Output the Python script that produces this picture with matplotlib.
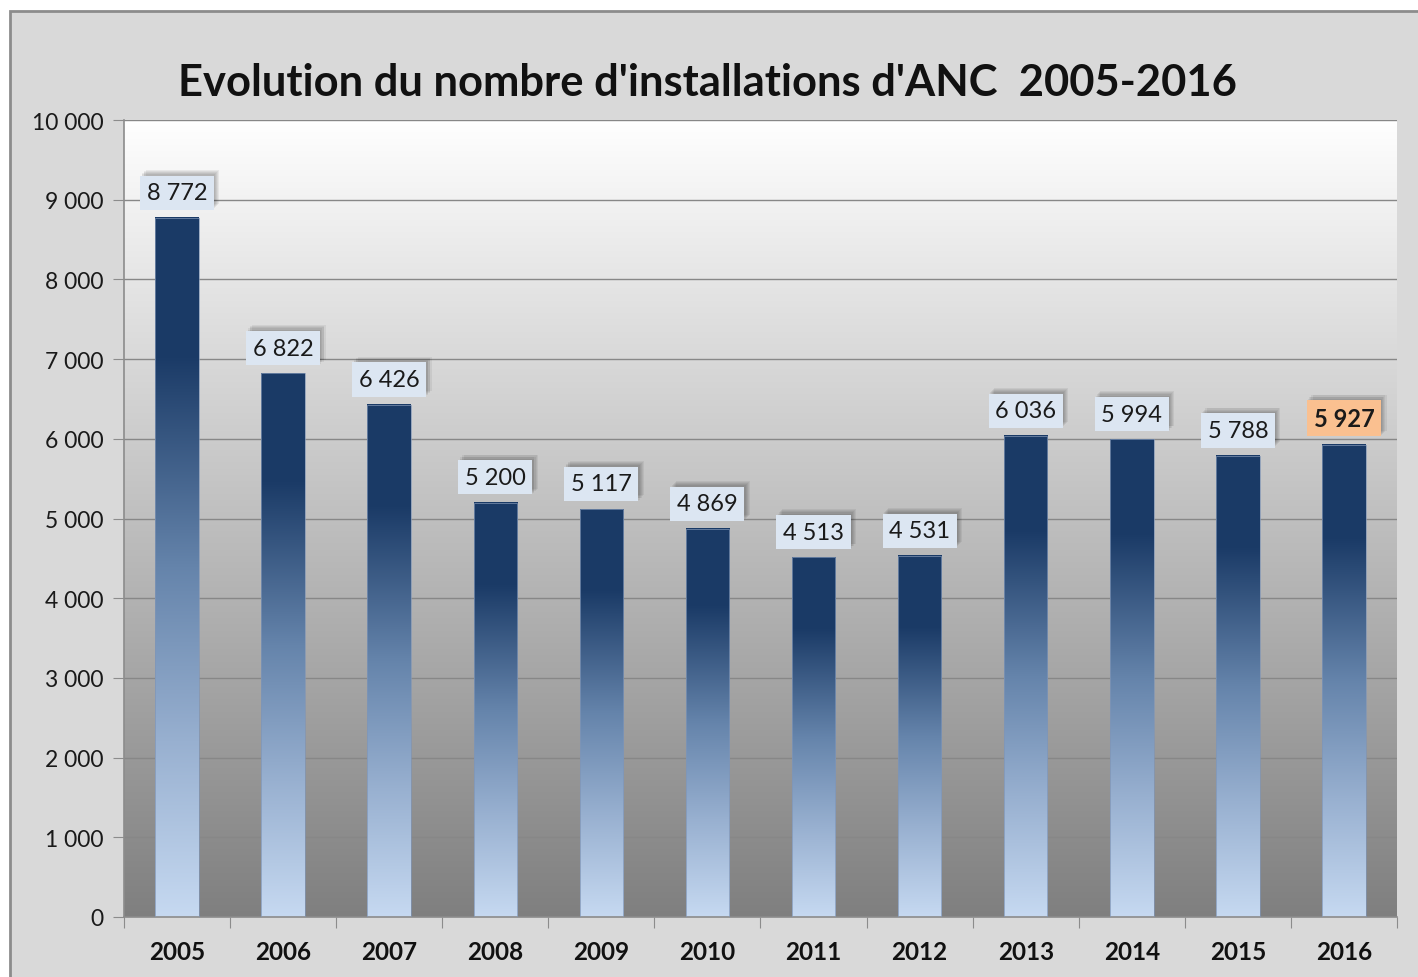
import matplotlib
matplotlib.use("Agg")
import matplotlib.pyplot as plt
import numpy as np
from matplotlib.colors import LinearSegmentedColormap
from matplotlib.patches import Rectangle
import matplotlib.patheffects as pe

years = ["2005", "2006", "2007", "2008", "2009", "2010", "2011", "2012", "2013", "2014", "2015", "2016"]
values = [8772, 6822, 6426, 5200, 5117, 4869, 4513, 4531, 6036, 5994, 5788, 5927]
title = "Evolution du nombre d'installations d'ANC  2005-2016"
yticks = list(range(0, 10001, 1000))

def fmt(v):
    return f"{v:,}".replace(",", " ")

FONT = ["Lato", "DejaVu Sans"]
plt.rcParams["font.family"] = FONT

W, H = 1418, 978
fig = plt.figure(figsize=(W / 100, H / 100), dpi=100)
fig.patch.set_facecolor("white")
# outer frame
fig.patches.append(Rectangle((10 / W, -0.01), 1.01, 1 - 12 / H + 0.01, transform=fig.transFigure,
                             facecolor="#d9d9d9", edgecolor="#8c8c8c", linewidth=2, zorder=-10))

ax = fig.add_axes([124 / W, 1 - 918 / H, (1397 - 124) / W, (918 - 121) / H])
ax.set_zorder(1)
ax.set_xlim(-0.5, len(years) - 0.5)
ax.set_ylim(0, 10000)

# plot background gradient
bg = LinearSegmentedColormap.from_list("bg", ["#7f7f7f", "#ffffff"])
grad = np.linspace(0, 1, 256).reshape(-1, 1)
ax.imshow(grad, cmap=bg, aspect="auto", origin="lower", extent=(-0.5, len(years) - 0.5, 0, 10000), zorder=0)

# gridlines
for t in yticks[1:]:
    ax.axhline(t, color="#878787", linewidth=1.0, zorder=1)

bar_cmap = LinearSegmentedColormap.from_list(
    "bar", [(0.0, "#c6d9f1"), (0.25, "#98b0d0"), (0.5, "#6584ab"), (0.8, "#1b3b67"), (1.0, "#1a3a66")])
bw = 0.41
shadow_effects = [pe.SimplePatchShadow(offset=off, shadow_rgbFace="black", alpha=0.06)
                  for off in [(4, 4), (3, 3.5), (2.5, 2.5), (1.5, 2), (1, 1)]]
shadow_effects.append(pe.Normal())
for i, v in enumerate(values):
    ax.imshow(grad, cmap=bar_cmap, aspect="auto", origin="lower", interpolation="bilinear",
              extent=(i - bw / 2, i + bw / 2, 0, v), zorder=2)
    ax.add_patch(Rectangle((i - bw / 2, 0), bw, v, fill=False, edgecolor="#8095b5", linewidth=0.5, zorder=3))
    last = (i == len(values) - 1)
    txt = ax.text(i, v + 185, fmt(v), ha="center", va="bottom", fontsize=17,
                  fontweight="bold" if last else "normal", color="#1a1a1a",
                  bbox=dict(boxstyle="square,pad=0.28", facecolor="#fac090" if last else "#dce6f2",
                            edgecolor="none"), zorder=5)
    txt.get_bbox_patch().set_path_effects(shadow_effects)

ax.set_xlim(-0.5, len(years) - 0.5)
ax.set_ylim(0, 10000)

for s in ["top", "right"]:
    ax.spines[s].set_visible(False)
for s in ["left", "bottom"]:
    ax.spines[s].set_color("#8c8c8c")
    ax.spines[s].set_linewidth(1.2)

ax.set_yticks(yticks)
ax.set_yticklabels([fmt(t) for t in yticks], fontsize=16.5, color="#1a1a1a")
ax.tick_params(axis="y", length=8, color="#8c8c8c", pad=7)

ax.set_xticks(np.arange(-0.5, len(years), 1.0))
ax.set_xticklabels([])
ax.tick_params(axis="x", length=8, color="#8c8c8c")
for i, y in enumerate(years):
    ax.text(i, -435, y, ha="center", va="center", fontsize=17.5, fontweight="bold", color="#111111", clip_on=False)

fig.text(707 / W, 1 - 83 / H, title, ha="center", va="center", fontsize=31.3, fontweight="bold", color="#111111")

fig.savefig("out.png", dpi=100)
